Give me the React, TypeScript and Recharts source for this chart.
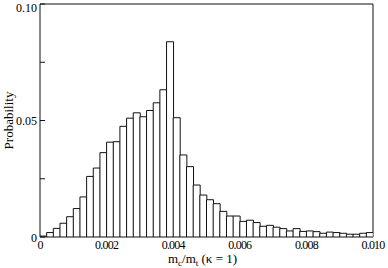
import React from 'react';
import { BarChart, Bar, XAxis, YAxis, ReferenceArea, Label } from 'recharts';

const binCenters = [
  0.0001, 0.0003, 0.0005, 0.0007, 0.0009, 0.0011, 0.0013, 0.0015, 0.0017, 0.0019,
  0.0021, 0.0023, 0.0025, 0.0027, 0.0029, 0.0031, 0.0033, 0.0035, 0.0037, 0.0039,
  0.0041, 0.0043, 0.0045, 0.0047, 0.0049, 0.0051, 0.0053, 0.0055, 0.0057, 0.0059,
  0.0061, 0.0063, 0.0065, 0.0067, 0.0069, 0.0071, 0.0073, 0.0075, 0.0077, 0.0079,
  0.0081, 0.0083, 0.0085, 0.0087, 0.0089, 0.0091, 0.0093, 0.0095, 0.0097, 0.0099,
];

const probabilities = [
  0.0004, 0.0019, 0.0037, 0.0059, 0.0087, 0.0122, 0.0172, 0.026, 0.0296, 0.0362,
  0.0407, 0.0409, 0.0475, 0.051, 0.0533, 0.0516, 0.0543, 0.0576, 0.0632, 0.0838,
  0.0512, 0.0352, 0.0302, 0.0223, 0.018, 0.016, 0.0143, 0.011, 0.009, 0.009,
  0.0067, 0.0072, 0.0062, 0.0046, 0.005, 0.0042, 0.0036, 0.0026, 0.0036, 0.0024,
  0.0026, 0.0023, 0.0016, 0.0021, 0.0019, 0.0016, 0.0012, 0.0012, 0.0016, 0.0019,
];

const xTicks = [0, 0.002, 0.004, 0.006, 0.008, 0.01];
const xTickLabels = ['0', '0.002', '0.004', '0.006', '0.008', '0.010'];
const yTicks = [0, 0.025, 0.05, 0.075, 0.1];
const yTickLabels = ['0', '', '0.05', '', '0.10'];

const data = binCenters.map((x, i) => ({ x, p: probabilities[i] }));

const FONT = "'Liberation Serif', 'Times New Roman', Times, serif";
const INK = '#111';

const LeftTick = (props: any) => {
  const { x, y, payload } = props;
  const idx = yTicks.indexOf(payload.value);
  const label = idx >= 0 ? yTickLabels[idx] : '';
  const baseline = Math.max(y + 4.5, 12);
  return (
    <g>
      <line x1={x + 3} x2={x + 8} y1={y} y2={y} stroke={INK} strokeWidth={1} />
      {label && (
        <text x={x} y={baseline} textAnchor="end" style={{ fontFamily: FONT, fontSize: 12 }} fill="#000">
          {label}
        </text>
      )}
    </g>
  );
};

const RightTick = (props: any) => {
  const { x, y } = props;
  return <line x1={x - 3} x2={x - 8} y1={y} y2={y} stroke={INK} strokeWidth={1} />;
};

const BottomTick = (props: any) => {
  const { x, y, payload } = props;
  const idx = xTicks.indexOf(payload.value);
  const label = idx >= 0 ? xTickLabels[idx] : '';
  return (
    <text
      x={x}
      y={y}
      textAnchor="middle"
      style={{ fontFamily: FONT, fontSize: 12, letterSpacing: '-0.8px' }}
      fill="#000"
    >
      {label}
    </text>
  );
};

const XLabel = (props: any) => {
  const vb = props.viewBox;
  const cx = vb.x + vb.width / 2 - 4;
  const by = vb.y + 26;
  return (
    <text x={cx} y={by} textAnchor="middle" style={{ fontFamily: FONT, fontSize: 13 }} fill="#000">
      <tspan>m</tspan>
      <tspan style={{ fontSize: 9 }} dy={3}>c</tspan>
      <tspan dy={-3}>/m</tspan>
      <tspan style={{ fontSize: 9 }} dy={3}>t</tspan>
      <tspan dy={-3}> (κ = 1)</tspan>
    </text>
  );
};

const YLabel = (props: any) => {
  const vb = props.viewBox;
  const cx = vb.x + 8;
  const cy = vb.y + vb.height / 2;
  return (
    <text
      x={cx}
      y={cy}
      transform={`rotate(-90, ${cx}, ${cy})`}
      textAnchor="middle"
      dominantBaseline="central"
      style={{ fontFamily: FONT, fontSize: 13 }}
      fill="#000"
    >
      Probability
    </text>
  );
};

export default function App() {
  return (
    <div style={{ position: 'absolute', left: 0, top: 0, background: '#fff', fontFamily: FONT }}>
      <BarChart
        width={388}
        height={268}
        data={data}
        margin={{ top: 4, right: 15, left: 0, bottom: 0 }}
        barCategoryGap={0}
        barGap={0}
      >
        <XAxis
          dataKey="x"
          type="number"
          domain={[0, 0.01]}
          ticks={xTicks}
          interval={0}
          height={31}
          axisLine={false}
          tickLine={false}
          tickSize={0}
          tickMargin={12}
          tick={<BottomTick />}
          allowDataOverflow
          label={<Label content={<XLabel />} />}
        />
        <YAxis
          yAxisId="l"
          type="number"
          domain={[0, 0.1]}
          ticks={yTicks}
          interval={0}
          width={40}
          axisLine={false}
          tickLine={false}
          tickSize={0}
          tickMargin={3}
          tick={<LeftTick />}
          allowDataOverflow
          label={<Label content={<YLabel />} />}
        />
        <YAxis
          yAxisId="r"
          orientation="right"
          type="number"
          domain={[0, 0.1]}
          ticks={yTicks}
          interval={0}
          width={0}
          axisLine={false}
          tickLine={false}
          tickSize={0}
          tickMargin={3}
          tick={<RightTick />}
          allowDataOverflow
        />
        <Bar
          yAxisId="l"
          dataKey="p"
          fill="#fff"
          stroke={INK}
          strokeWidth={1}
          isAnimationActive={false}
        />
        <ReferenceArea
          yAxisId="l"
          x1={0}
          x2={0.01}
          y1={0}
          y2={0.1}
          fill="none"
          fillOpacity={0}
          stroke={INK}
          strokeWidth={1}
          ifOverflow="visible"
        />
      </BarChart>
    </div>
  );
}
